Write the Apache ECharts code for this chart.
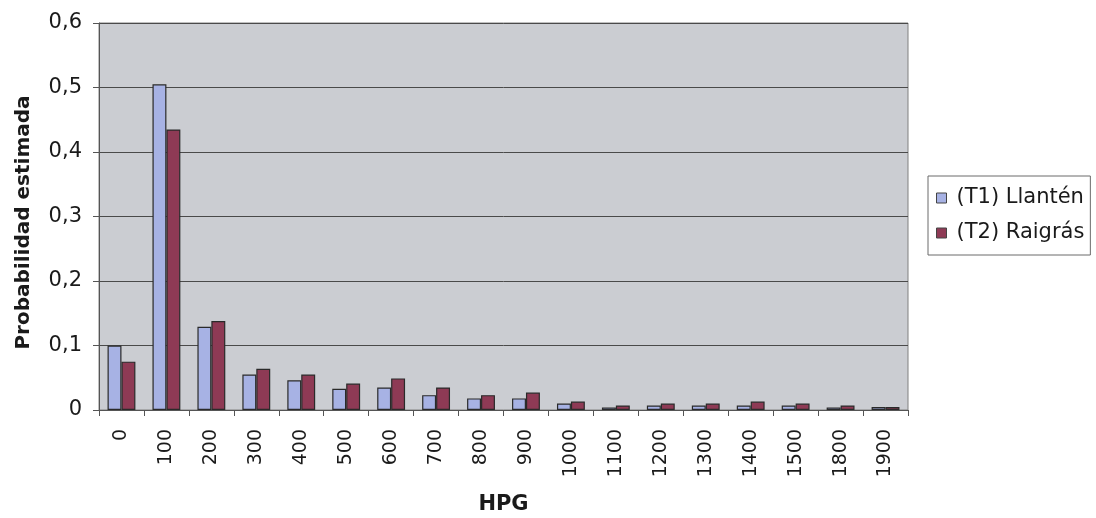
<!DOCTYPE html>
<html>
<head>
<meta charset="utf-8">
<script src="https://cdn.jsdelivr.net/npm/echarts@6/dist/echarts.min.js"></script>
<style>
  html, body { margin: 0; padding: 0; background: #ffffff; }
  #chart { width: 1096px; height: 518px; }
</style>
</head>
<body>
<div id="chart"></div>
<script>
// HPG classes and estimated probability for each treatment
const categories = ['0', '100', '200', '300', '400', '500', '600', '700', '800', '900',
  '1000', '1100', '1200', '1300', '1400', '1500', '1800', '1900'];
const llanten = [0.100, 0.505, 0.129, 0.055, 0.046, 0.033, 0.035, 0.023, 0.018, 0.018,
  0.010, 0.004, 0.007, 0.007, 0.007, 0.007, 0.004, 0.0045];
const raigras = [0.075, 0.435, 0.138, 0.064, 0.055, 0.041, 0.049, 0.035, 0.023, 0.027,
  0.013, 0.007, 0.010, 0.010, 0.013, 0.010, 0.007, 0.0045];
const yTicks = { min: 0, max: 0.6, interval: 0.1 };

const chart = echarts.init(document.getElementById('chart'), null, { renderer: 'canvas' });
const font = 'DejaVu Sans, Verdana, sans-serif';

chart.setOption({
  backgroundColor: '#ffffff',
  animation: false,
  grid: {
    left: 99, right: 188, top: 23, bottom: 108,
    show: true, backgroundColor: '#cbcdd2', borderColor: '#808080', borderWidth: 1,
    containLabel: false,
    outerBoundsMode: 'none'
  },
  legend: {
    orient: 'vertical',
    left: 928, top: 176,
    itemWidth: 10, itemHeight: 10, itemGap: 13,
    padding: [11, 6, 11, 8],
    borderColor: '#6a6a6a', borderWidth: 1,
    backgroundColor: '#ffffff',
    icon: 'rect',
    itemStyle: { borderColor: '#444444', borderWidth: 1 },
    textStyle: { fontFamily: font, fontSize: 21, lineHeight: 22, color: '#1a1a1a', padding: [0, 0, 0, 5] },
    data: ['(T1) Llantén', '(T2) Raigrás']
  },
  xAxis: {
    type: 'category',
    data: categories,
    name: 'HPG',
    nameLocation: 'middle',
    nameGap: 84,
    nameTextStyle: { fontFamily: font, fontSize: 21, fontWeight: 'bold', color: '#1a1a1a' },
    axisLine: { lineStyle: { color: '#555555', width: 1 } },
    axisTick: { show: true, length: 6, lineStyle: { color: '#555555' } },
    axisLabel: { rotate: 90, fontFamily: font, fontSize: 19, color: '#1a1a1a', margin: 19 },
    splitLine: { show: false }
  },
  yAxis: {
    type: 'value',
    min: yTicks.min, max: yTicks.max, interval: yTicks.interval,
    name: 'Probabilidad estimada',
    nameLocation: 'middle',
    nameGap: 65,
    nameTextStyle: {
      fontFamily: font, fontSize: 20, fontWeight: 'bold', color: '#1a1a1a',
      padding: [0, 12, 0, 0]
    },
    axisLine: { show: true, lineStyle: { color: '#555555', width: 1 } },
    axisTick: { show: true, length: 6, inside: false, lineStyle: { color: '#555555' } },
    axisLabel: {
      fontFamily: font, fontSize: 21, color: '#1a1a1a', margin: 17,
      formatter: v => (Math.round(v * 10) / 10).toString().replace('.', ',')
    },
    splitLine: { show: true, lineStyle: { color: '#4a4a4a', width: 1 } }
  },
  series: [
    {
      name: '(T1) Llantén', type: 'bar', data: llanten,
      barGap: '0%', barCategoryGap: '38%',
      itemStyle: { color: '#a7b2e4', borderColor: '#2a2a2a', borderWidth: 1.2 }
    },
    {
      name: '(T2) Raigrás', type: 'bar', data: raigras,
      itemStyle: { color: '#8e3a55', borderColor: '#2a2a2a', borderWidth: 1.2 }
    }
  ]
});
</script>
</body>
</html>
